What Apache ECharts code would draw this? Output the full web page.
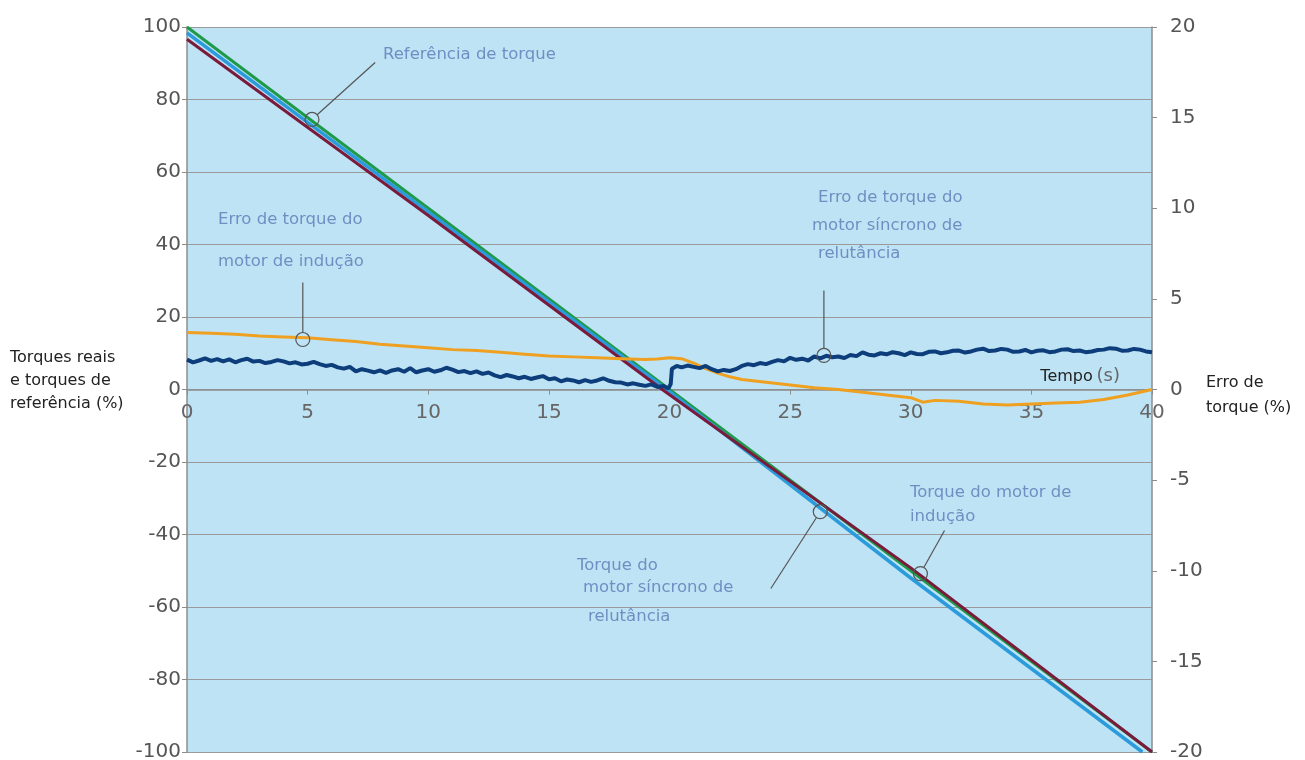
<!DOCTYPE html>
<html>
<head>
<meta charset="utf-8">
<script src="https://cdn.jsdelivr.net/npm/echarts@6/dist/echarts.min.js"></script>
<style>
  html, body { margin: 0; padding: 0; background: #fff; }
  #main { width: 1305px; height: 760px; }
</style>
</head>
<body>
<div id="main"></div>
<script>
// dados (tempo em s, torque em %)
var refTorque = [[0, 100], [40, -100]];
var synTorque = [[0, 98.4], [10, 49], [20, -0.6], [30, -52], [39.6, -100]];
var imTorque = [[0, 96.6], [10, 48], [19.8, -0.5], [30, -49.2], [40, -100]];

// erro de torque (eixo direito, %)
var synErrX = [0, 0.25, 0.5, 0.75, 1, 1.25, 1.5, 1.75, 2, 2.25, 2.5, 2.75, 3, 3.25, 3.5, 3.75, 4, 4.25, 4.5, 4.75,
  5, 5.25, 5.5, 5.75, 6, 6.25, 6.5, 6.75, 7, 7.25, 7.5, 7.75, 8, 8.25, 8.5, 8.75, 9, 9.25, 9.5, 9.75,
  10, 10.25, 10.5, 10.75, 11, 11.25, 11.5, 11.75, 12, 12.25, 12.5, 12.75, 13, 13.25, 13.5, 13.75, 14, 14.25, 14.5, 14.75,
  15, 15.25, 15.5, 15.75, 16, 16.25, 16.5, 16.75, 17, 17.25, 17.5, 17.75, 18, 18.25, 18.5, 18.75, 19, 19.25, 19.5, 19.75,
  19.95, 20.05, 20.1, 20.3, 20.5, 20.75, 21, 21.25, 21.5, 21.75, 22, 22.25, 22.5, 22.75, 23, 23.25, 23.5, 23.75,
  24, 24.25, 24.5, 24.75, 25, 25.25, 25.5, 25.75, 26, 26.25, 26.5, 26.75, 27, 27.25, 27.5, 27.75,
  28, 28.25, 28.5, 28.75, 29, 29.25, 29.5, 29.75, 30, 30.25, 30.5, 30.75, 31, 31.25, 31.5, 31.75,
  32, 32.25, 32.5, 32.75, 33, 33.25, 33.5, 33.75, 34, 34.25, 34.5, 34.75, 35, 35.25, 35.5, 35.75,
  36, 36.25, 36.5, 36.75, 37, 37.25, 37.5, 37.75, 38, 38.25, 38.5, 38.75, 39, 39.25, 39.5, 39.75, 40];
var synErrY = [1.65, 1.5, 1.6, 1.72, 1.58, 1.68, 1.55, 1.66, 1.5, 1.62, 1.7, 1.54, 1.58, 1.46, 1.52, 1.62, 1.55, 1.44, 1.5, 1.38,
  1.42, 1.52, 1.4, 1.3, 1.36, 1.22, 1.15, 1.25, 1.0, 1.12, 1.04, 0.95, 1.06, 0.92, 1.05, 1.12, 0.98, 1.18, 0.95, 1.05,
  1.12, 0.98, 1.06, 1.2, 1.1, 0.96, 1.02, 0.9, 1.0, 0.86, 0.94, 0.78, 0.68, 0.8, 0.72, 0.62, 0.7, 0.58, 0.66, 0.74,
  0.56, 0.62, 0.45, 0.55, 0.5, 0.4, 0.52, 0.42, 0.5, 0.62, 0.48, 0.4, 0.38, 0.28, 0.34, 0.26, 0.2, 0.28, 0.14, 0.2,
  0.05, 0.3, 1.15, 1.3, 1.22, 1.32, 1.25, 1.18, 1.3, 1.12, 1.0, 1.08, 1.02, 1.12, 1.3, 1.4, 1.34, 1.46,
  1.4, 1.52, 1.62, 1.55, 1.75, 1.64, 1.7, 1.6, 1.82, 1.72, 1.86, 1.78, 1.82, 1.74, 1.9, 1.84,
  2.05, 1.92, 1.88, 2.0, 1.94, 2.06, 2.0, 1.9, 2.05, 1.96, 1.95, 2.08, 2.1, 2.0, 2.05, 2.14,
  2.15, 2.04, 2.1, 2.2, 2.25, 2.12, 2.15, 2.24, 2.2, 2.08, 2.1, 2.18, 2.05, 2.14, 2.16, 2.06,
  2.1, 2.2, 2.22, 2.12, 2.15, 2.06, 2.1, 2.18, 2.2, 2.28, 2.25, 2.14, 2.15, 2.24, 2.2, 2.1, 2.05];

var imErrX = [0, 1, 2, 3, 4, 5, 6, 7, 8, 9, 10, 11, 12, 13, 14, 15, 16, 17, 18, 19, 19.5, 20, 20.5,
  21, 21.5, 22, 22.5, 23, 24, 25, 26, 27, 28, 29, 30, 30.5, 31, 32, 33, 34, 35, 36, 37, 38, 39, 39.5, 40];
var imErrY = [3.15, 3.1, 3.05, 2.95, 2.9, 2.85, 2.75, 2.65, 2.5, 2.4, 2.3, 2.2, 2.15, 2.05, 1.95, 1.85, 1.8, 1.75, 1.7, 1.65, 1.68, 1.75, 1.7,
  1.45, 1.15, 0.9, 0.7, 0.55, 0.4, 0.25, 0.1, 0.0, -0.15, -0.3, -0.45, -0.7, -0.6, -0.65, -0.8, -0.85, -0.8, -0.75, -0.7, -0.55, -0.3, -0.15, 0];

var leftTicks = [-100, -80, -60, -40, -20, 0, 20, 40, 60, 80, 100];
var rightTicks = [-20, -15, -10, -5, 0, 5, 10, 15, 20];

function pairs(xs, ys) {
  return xs.map(function (x, i) { return [x, ys[i]]; });
}

var myChart = echarts.init(document.getElementById('main'));
var fontFam = '"DejaVu Sans", "Liberation Sans", Arial, sans-serif';
var axisGrey = '#8c8c8c';
var gridTop = 27, gridBottom = 8;
// o eixo do tempo fica na linha do zero (meio da grade, pois o eixo vai de -100 a 100)
var zeroOffset = -(760 - gridTop - gridBottom) / 2;

var option = {
  animation: false,
  textStyle: { fontFamily: fontFam },
  grid: { left: 187, right: 153, top: gridTop, bottom: gridBottom, outerBoundsMode: 'none', containLabel: false,
    backgroundColor: '#bde3f5', show: true, borderWidth: 0 },
  xAxis: {
    type: 'value', min: 0, max: 40, interval: 5,
    offset: zeroOffset,
    axisLine: { onZero: false, lineStyle: { color: axisGrey, width: 1.5 } },
    axisTick: { show: true, length: 5, lineStyle: { color: axisGrey } },
    axisLabel: { color: '#666', fontSize: 20, margin: 13, fontFamily: fontFam },
    splitLine: { show: false },
    name: '{a|Tempo} {b|(s)}',
    nameLocation: 'end',
    nameGap: 0,
    nameTextStyle: {
      rich: {
        a: { fontSize: 16, color: '#222', fontFamily: fontFam },
        b: { fontSize: 18, color: '#666', fontFamily: fontFam }
      },
      align: 'right', verticalAlign: 'bottom', padding: [0, 32, 4, 0]
    }
  },
  yAxis: [{
    type: 'value', min: -100, max: 100, interval: 20,
    axisLine: { show: true, lineStyle: { color: axisGrey, width: 1.5 } },
    axisTick: { show: true, length: 5, lineStyle: { color: axisGrey } },
    axisLabel: { color: '#555', fontSize: 20, margin: 6, fontFamily: fontFam,
      formatter: function (v) { return leftTicks.indexOf(v) >= 0 ? String(v) : ''; } },
    splitLine: { show: true, lineStyle: { color: '#9a9a9a', width: 1.2 } }
  }, {
    type: 'value', min: -20, max: 20, interval: 5, position: 'right',
    axisLine: { show: true, lineStyle: { color: axisGrey, width: 1.5 } },
    axisTick: { show: true, length: 5, lineStyle: { color: axisGrey } },
    axisLabel: { color: '#555', fontSize: 20, margin: 18, fontFamily: fontFam,
      formatter: function (v) { return rightTicks.indexOf(v) >= 0 ? String(v) : ''; } },
    splitLine: { show: false }
  }],
  series: [
    { name: 'Referência de torque', type: 'line', data: refTorque, showSymbol: false,
      lineStyle: { color: '#1e9a48', width: 3 } },
    { name: 'Torque do motor síncrono de relutância', type: 'line', data: synTorque, showSymbol: false,
      lineStyle: { color: '#2b9bdb', width: 3.5 } },
    { name: 'Torque do motor de indução', type: 'line', data: imTorque, showSymbol: false,
      lineStyle: { color: '#7a1b3c', width: 3 } },
    { name: 'Erro de torque do motor de indução', type: 'line', yAxisIndex: 1, data: pairs(imErrX, imErrY),
      showSymbol: false, lineStyle: { color: '#f0a020', width: 3 } },
    { name: 'Erro de torque do motor síncrono de relutância', type: 'line', yAxisIndex: 1, data: pairs(synErrX, synErrY),
      showSymbol: false, lineStyle: { color: '#0d3d7a', width: 4 } }
  ]
};
myChart.setOption(option);

// anotações: círculo sobre a curva e linha de chamada (coordenadas do eixo esquerdo)
var notes = [
  { at: [5.18, 74.5], to: [7.8, 90.2] },
  { at: [4.8, 13.8], to: [4.8, 29.5] },
  { at: [26.4, 9.4], to: [26.4, 27.3] },
  { at: [30.4, -50.8], to: [31.4, -38.9] },
  { at: [26.25, -33.7], to: [24.2, -54.9] }
];
var labelColor = '#6f8fc2';
var texts = [
  ['Referência de torque', 383, 55],
  ['Erro de torque do', 218, 220],
  ['motor de indução', 218, 262],
  ['Erro de torque do', 818, 198],
  ['motor síncrono de', 812, 226],
  ['relutância', 818, 254],
  ['Torque do motor de', 910, 493],
  ['indução', 910, 517],
  ['Torque do', 577, 566],
  ['motor síncrono de', 583, 588],
  ['relutância', 588, 617]
];

var graphics = [];
notes.forEach(function (n) {
  var c = myChart.convertToPixel({ xAxisIndex: 0, yAxisIndex: 0 }, n.at);
  var t = myChart.convertToPixel({ xAxisIndex: 0, yAxisIndex: 0 }, n.to);
  var dx = t[0] - c[0], dy = t[1] - c[1];
  var len = Math.sqrt(dx * dx + dy * dy), r = 7;
  graphics.push({ type: 'line', silent: true, z: 100,
    shape: { x1: c[0] + dx / len * r, y1: c[1] + dy / len * r, x2: t[0], y2: t[1] },
    style: { stroke: '#555', lineWidth: 1.2 } });
  graphics.push({ type: 'circle', silent: true, z: 100,
    shape: { cx: c[0], cy: c[1], r: r },
    style: { fill: 'none', stroke: '#555', lineWidth: 1.2 } });
});
texts.forEach(function (t) {
  graphics.push({ type: 'text', silent: true, z: 100, x: t[1], y: t[2],
    style: { text: t[0], fill: labelColor, font: '16.5px ' + fontFam, verticalAlign: 'middle' } });
});
// nomes dos eixos
graphics.push({ type: 'text', silent: true, z: 100, x: 10, y: 381,
  style: { text: 'Torques reais\ne torques de\nreferência (%)', fill: '#222', font: '16px ' + fontFam,
    lineHeight: 23, verticalAlign: 'middle' } });
graphics.push({ type: 'text', silent: true, z: 100, x: 1206, y: 395,
  style: { text: 'Erro de\ntorque (%)', fill: '#222', font: '16px ' + fontFam,
    lineHeight: 25, verticalAlign: 'middle' } });
myChart.setOption({ graphic: graphics });

window.addEventListener('resize', function () {
  myChart.resize();
});
</script>
</body>
</html>
